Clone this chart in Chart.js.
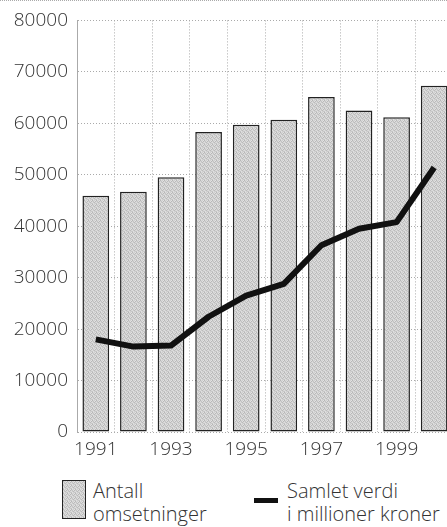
<!DOCTYPE html>
<html>
<head>
<meta charset="utf-8">
<script src="https://cdn.jsdelivr.net/npm/chart.js@4"></script>
<style>
  html, body { margin: 0; padding: 0; background: #fff; overflow: hidden; }
  body { width: 447px; height: 527px; position: relative; font-family: "Open Sans", sans-serif; color: #333; }
  #wrap { position: absolute; left: 0; top: 0; width: 453px; height: 470px; }
  #topline { position: absolute; left: 0; top: 0; width: 447px; border-top: 1px dotted #aaa; }
  .leg { position: absolute; font-size: 20px; font-weight: 300; line-height: 23px; color: #333; }
  .swatch-bar { position: absolute; left: 62px; top: 480px; width: 22px; height: 37px; border: 1.5px solid #222; }
  .swatch-line { position: absolute; left: 254px; top: 498px; width: 24px; height: 5px; background: #111; }
</style>
</head>
<body>
<div id="topline"></div>
<div id="wrap"><canvas id="chart"></canvas></div>
<div class="swatch-bar" id="swatch"></div>
<div class="leg" style="left:93px; top:479px;">Antall<br>omsetninger</div>
<div class="swatch-line"></div>
<div class="leg" style="left:287px; top:479px;">Samlet verdi<br>i millioner kroner</div>
<script>
const years = ["1991", "1992", "1993", "1994", "1995", "1996", "1997", "1998", "1999", "2000"];
const antallOmsetninger = [45900, 46700, 49500, 58300, 59700, 60700, 65100, 62500, 61200, 67300];
const samletVerdi = [18000, 16600, 16800, 22400, 26500, 28800, 36300, 39500, 40800, 51400];
const yTicks = [0, 10000, 20000, 30000, 40000, 50000, 60000, 70000, 80000];

// stippled grey fill like the printed bars (fixed 4x4 dot layout)
const dots = [
  "#b6b6b6", "#d8d8d8", "#cfcfcf", "#e2e2e2",
  "#d4d4d4", "#c2c2c2", "#e0e0e0", "#b9b9b9",
  "#dedede", "#cacaca", "#bbbbbb", "#d6d6d6",
  "#c4c4c4", "#e1e1e1", "#d0d0d0", "#c8c8c8"
];
function stipple() {
  const c = document.createElement("canvas");
  c.width = 4; c.height = 4;
  const g = c.getContext("2d");
  dots.forEach((col, i) => { g.fillStyle = col; g.fillRect(i % 4, Math.floor(i / 4), 1, 1); });
  return c;
}
const tile = stipple();
const barFill = tile.getContext("2d").createPattern(tile, "repeat");
document.getElementById("swatch").style.background = "url(" + tile.toDataURL() + ")";

const font = { family: "'Open Sans', sans-serif", size: 19, weight: 300 };

new Chart(document.getElementById("chart"), {
  data: {
    labels: years,
    datasets: [
      {
        type: "line",
        label: "Samlet verdi i millioner kroner",
        data: samletVerdi,
        borderColor: "#111",
        borderWidth: 6,
        pointRadius: 0,
        tension: 0,
        borderJoinStyle: "round",
        order: 0
      },
      {
        type: "bar",
        label: "Antall omsetninger",
        data: antallOmsetninger,
        backgroundColor: barFill,
        borderColor: "#222",
        borderWidth: 1.5,
        borderSkipped: false,
        barPercentage: 0.71,
        categoryPercentage: 1,
        order: 1
      }
    ]
  },
  options: {
    responsive: true,
    maintainAspectRatio: false,
    animation: false,
    layout: { padding: { top: 20, right: 0, bottom: 0, left: 0 } },
    plugins: {
      legend: { display: false },
      tooltip: { enabled: false }
    },
    scales: {
      x: {
        grid: { color: "#aaa", lineWidth: 1, drawTicks: false },
        border: { display: false, dash: [1, 2] },
        ticks: {
          font: font,
          color: "#333",
          padding: 6,
          autoSkip: false,
          maxRotation: 0,
          callback: function (v, i) { return i % 2 === 0 ? years[i] : ""; }
        },
        afterFit: function (s) { s.height = 38; }
      },
      y: {
        min: 0,
        max: 80000,
        afterBuildTicks: function (s) { s.ticks = yTicks.map(v => ({ value: v })); },
        grid: { color: "#aaa", lineWidth: 1, drawTicks: false },
        border: { color: "#aaa", dash: [1, 2] },
        ticks: { font: font, color: "#333", padding: 9, callback: v => String(v) },
        afterFit: function (s) { s.width = 77; }
      }
    }
  }
});
</script>
</body>
</html>
